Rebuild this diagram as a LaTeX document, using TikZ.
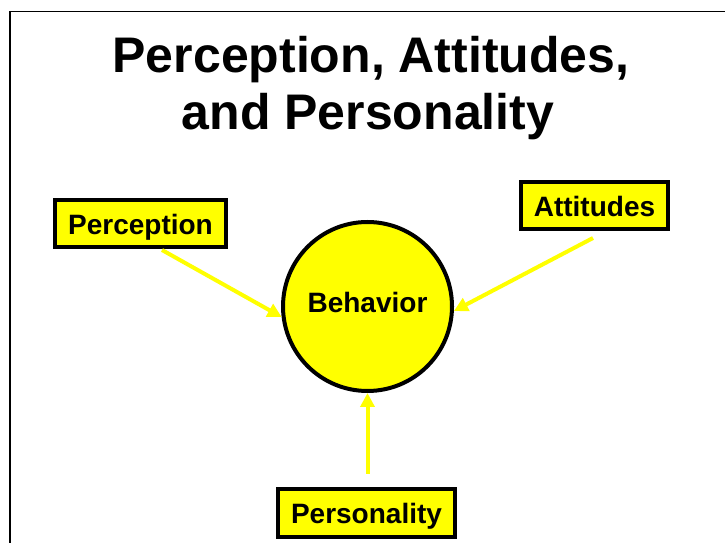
\documentclass[tikz,border=0pt]{standalone}
\usepackage{fontspec}
\setmainfont{Liberation Sans}
\usetikzlibrary{arrows.meta}
\definecolor{ylw}{RGB}{255,255,0}
\tikzset{
  lbl/.style={draw=black, line width=4pt, fill=ylw, inner sep=0pt,
    font=\fontsize{28}{32}\selectfont\bfseries, text height=24pt, text depth=2pt},
  ttl/.style={font=\fontsize{50}{56}\selectfont\bfseries, anchor=base, inner sep=0pt},
  arr/.style={draw=ylw, line width=4pt, -{Triangle[length=14pt,width=14pt]}},
  frame/.style={draw=black, line width=1.5pt}
}
\begin{document}
\begin{tikzpicture}[x=1pt,y=1pt]
\useasboundingbox (0,0) rectangle (725,543);
\draw[frame] (10,-2) -- (10,531.5) -- (727,531.5);
\node[ttl] (t1) at (371,470) {Perception, Attitudes,};
\node[ttl] (t2) at (368,413) {and Personality};
\node[lbl, minimum width=171pt, minimum height=47pt] (per) at (140.5,319.5) {Perception};
\node[lbl, minimum width=147pt, minimum height=47pt] (att) at (594.5,337.5) {Attitudes};
\node[lbl, minimum width=177pt, minimum height=48pt] (pers) at (366.5,30) {Personality};
\node[circle, draw=black, line width=4pt, fill=ylw, minimum size=169pt, inner sep=0pt,
  font=\fontsize{28}{32}\selectfont\bfseries, text height=20pt, text depth=7pt] (beh) at (367.5,236.5) {Behavior};
\coordinate (perS) at ([xshift=21.5pt,yshift=-1pt]per.south);
\coordinate (attS) at ([xshift=-1.5pt,yshift=-7pt]att.south);
\coordinate (persS) at ([xshift=1pt,yshift=13pt]pers.north);
\draw[arr] (perS) -- (beh.187.5);
\draw[arr] (attS) -- (beh.-3.6);
\draw[arr] (persS) -- (beh.south);
\end{tikzpicture}
\end{document}
